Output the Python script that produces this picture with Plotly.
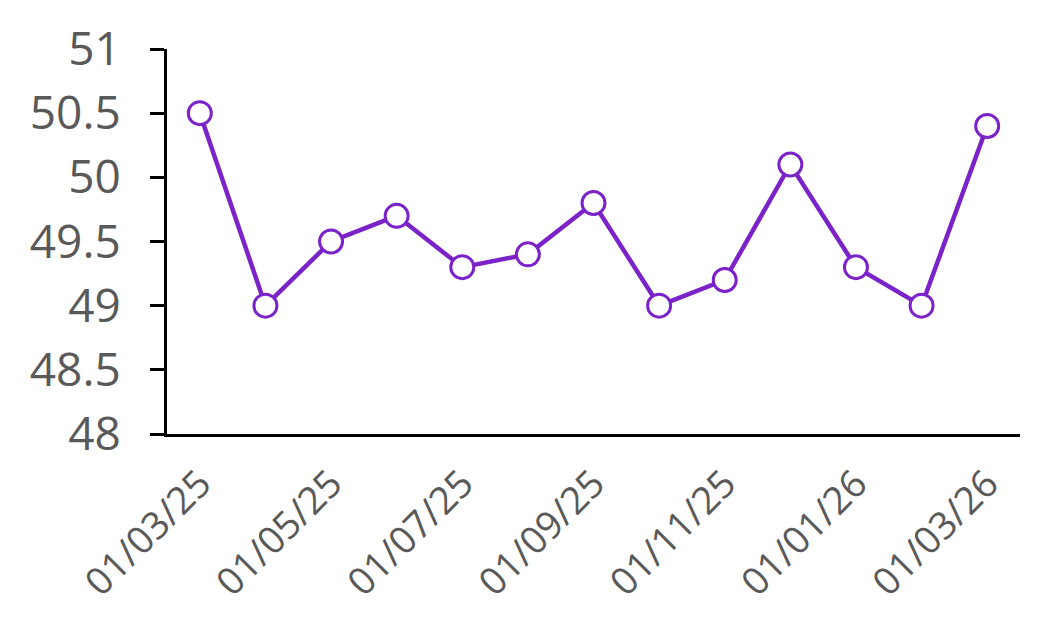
import plotly.graph_objects as go

dates = ["01/03/25", "01/04/25", "01/05/25", "01/06/25", "01/07/25", "01/08/25", "01/09/25",
         "01/10/25", "01/11/25", "01/12/25", "01/01/26", "01/02/26", "01/03/26"]
values = [50.5, 49.0, 49.5, 49.7, 49.3, 49.4, 49.8, 49.0, 49.2, 50.1, 49.3, 49.0, 50.4]
y_ticks = [48, 48.5, 49, 49.5, 50, 50.5, 51]
y_tick_text = ["48", "48.5", "49", "49.5", "50", "50.5", "51"]

x_idx = list(range(len(dates)))
x_tickvals = x_idx[::2]
x_ticktext = dates[::2]

purple = "#7B22C9"
fig = go.Figure(go.Scatter(
    x=x_idx, y=values, mode="lines+markers",
    line=dict(color=purple, width=4.5),
    marker=dict(size=23, color="white", line=dict(color=purple, width=3)),
    cliponaxis=False,
))
font_family = "Open Sans, sans-serif"
fig.update_layout(
    width=1062, height=626,
    margin=dict(l=159, r=50, t=41, b=200),
    paper_bgcolor="white", plot_bgcolor="white",
    showlegend=False,
    font=dict(family=font_family, color="#595959"),
)
fig.update_xaxes(
    range=[-0.5, len(dates) - 0.5],
    tickmode="array", tickvals=x_tickvals, ticktext=x_ticktext,
    tickangle=-45, tickfont=dict(size=38, color="#595959"),
    ticklabelstandoff=9, automargin=False,
    showline=True, linecolor="black", linewidth=3,
    showgrid=False, zeroline=False, ticks="",
)
fig.update_yaxes(
    range=[48, 51],
    tickmode="array", tickvals=y_ticks, ticktext=y_tick_text,
    tickfont=dict(size=46, color="#595959"),
    ticklabelstandoff=20, automargin=False,
    showline=True, linecolor="black", linewidth=3,
    ticks="outside", ticklen=14, tickwidth=3, tickcolor="black",
    showgrid=False, zeroline=False,
)
fig.write_html("out.html")
